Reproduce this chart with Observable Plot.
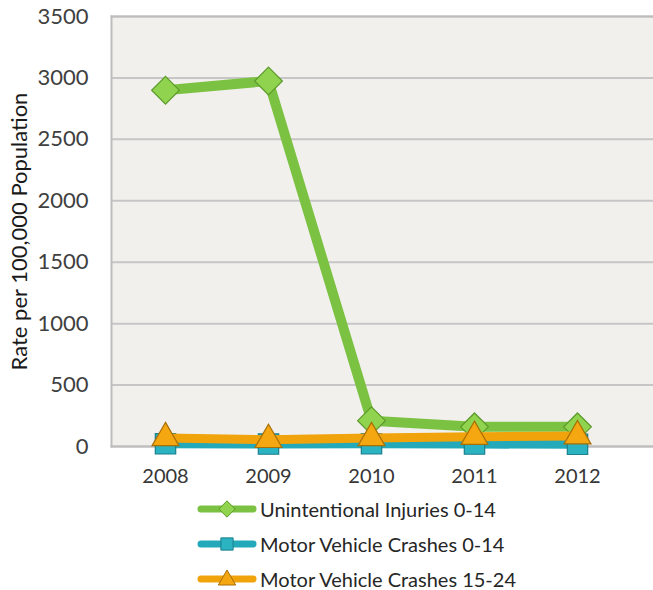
<!DOCTYPE html>
<html>
<head>
<meta charset="utf-8">
<script src="https://cdn.jsdelivr.net/npm/d3@7"></script>
<script src="https://cdn.jsdelivr.net/npm/@observablehq/plot@0.6"></script>
<style>
  body { margin: 0; background: #fff; font-family: Lato, "Open Sans", sans-serif; }
  #chart svg { display: block; }
  #legend { padding-top: 1px; }
  .row { display: flex; align-items: center; height: 35px; margin-left: 196px; }
  .row svg { display: block; margin-right: 2px; }
  .row span { font-size: 20px; color: #262626; white-space: nowrap; line-height: 22px; }
</style>
</head>
<body>
<div id="chart"></div>
<div id="legend"></div>
<script>
const years = ["2008", "2009", "2010", "2011", "2012"];
const seriesNames = ["Unintentional Injuries 0-14", "Motor Vehicle Crashes 0-14", "Motor Vehicle Crashes 15-24"];
const unintentional014 = [2900, 2975, 210, 160, 160];
const motorVehicle014 = [22, 20, 22, 20, 18];
const motorVehicle1524 = [70, 55, 70, 80, 85];
const yTicks = [0, 500, 1000, 1500, 2000, 2500, 3000, 3500];
const yLabel = "Rate per 100,000 Population";

const seriesValues = [unintentional014, motorVehicle014, motorVehicle1524];
const styles = [
  {line: "#7cc242", fill: "#8fd34e", stroke: "#5c9a2a", symbol: "diamond2", r: 12.5, width: 10},
  {line: "#23a9b9", fill: "#2bb3c2", stroke: "#1b7f8c", symbol: "square", r: 11.5, width: 9},
  {line: "#f0a30a", fill: "#f5a712", stroke: "#a86f05", symbol: "triangle", r: 10, width: 9}
];

const data = seriesNames.flatMap((s, i) => years.map((y, j) => ({series: s, idx: i, year: y, value: seriesValues[i][j]})));

const marks = [
  Plot.frame({fill: "#f2f0ed", stroke: null}),
  Plot.gridY(yTicks, {stroke: "#c6c6c6", strokeWidth: 2, strokeOpacity: 1}),
  Plot.frame({anchor: "left", stroke: "#bdbdbd", strokeWidth: 2}),
  Plot.frame({anchor: "bottom", stroke: "#bdbdbd", strokeWidth: 2}),
  Plot.frame({anchor: "top", stroke: "#bdbdbd", strokeWidth: 2}),
  Plot.axisY({ticks: yTicks, tickFormat: d => String(d), tickSize: 0, tickPadding: 23, fontSize: 22, fill: "#404040", label: null}),
  Plot.axisY({ticks: [], label: yLabel, labelAnchor: "center", labelArrow: "none", labelOffset: 100, fontSize: 22, fill: "#1a1a1a"}),
  Plot.axisX({tickSize: 0, tickPadding: 22, fontSize: 20, fill: "#363636", label: null})
];
seriesNames.forEach((s, i) => {
  const d = data.filter(r => r.idx === i);
  const st = styles[i];
  marks.push(Plot.line(d, {x: "year", y: "value", stroke: st.line, strokeWidth: st.width, strokeLinejoin: "round"}));
  marks.push(Plot.dot(d, {x: "year", y: "value", symbol: st.symbol, r: st.r, fill: st.fill, stroke: st.stroke, strokeWidth: 1.2}));
});

const chart = Plot.plot({
  width: 653,
  height: 490,
  marginLeft: 111,
  marginRight: 0,
  marginTop: 16,
  marginBottom: 44,
  style: {fontFamily: "Lato, sans-serif", color: "#202020", background: "#fff"},
  x: {type: "point", domain: years, padding: 0.5, insetRight: 23},
  y: {domain: [0, 3500]},
  marks
});
document.getElementById("chart").append(chart);

// legend
const legend = document.getElementById("legend");
seriesNames.forEach((s, i) => {
  const st = styles[i];
  const row = document.createElement("div");
  row.className = "row";
  const sym = d3.symbol(i === 0 ? d3.symbolDiamond2 : i === 1 ? d3.symbolSquare : d3.symbolTriangle, i === 1 ? 150 : i === 0 ? 170 : 130)();
  row.innerHTML = `<svg width="62" height="24" viewBox="0 0 62 24">
      <line x1="5" y1="12" x2="57" y2="12" stroke="${st.line}" stroke-width="7" stroke-linecap="round"/>
      <path d="${sym}" transform="translate(31,${i === 2 ? 13 : 12})" fill="${st.fill}" stroke="${st.stroke}" stroke-width="1"/>
    </svg><span>${s}</span>`;
  legend.append(row);
});
</script>
</body>
</html>
